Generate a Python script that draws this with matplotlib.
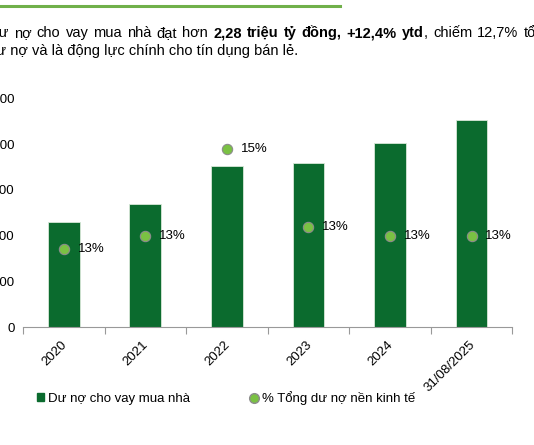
import matplotlib
matplotlib.use("Agg")
import matplotlib.pyplot as plt
from matplotlib.lines import Line2D
from matplotlib.patches import Patch
from matplotlib.transforms import ScaledTranslation

plt.rcParams['font.family'] = ['Liberation Sans', 'DejaVu Sans']

# dữ liệu
categories = ['2020', '2021', '2022', '2023', '2024', '31/08/2025']
loan_values = [1153, 1343, 1761, 1790, 2015, 2263]      # nghìn tỷ đồng
share_pct = [12.7, 13.0, 14.9, 13.2, 13.0, 13.0]         # % tổng dư nợ
y_ticks = [0, 500, 1000, 1500, 2000, 2500]

bar_color = '#0b6b2e'
dot_color = '#7ac143'
fs = 9.5
fs_text = 10.5

fig = plt.figure(figsize=(5.34, 4.45), dpi=100)
ax = fig.add_axes([0.0431, 0.2645, 0.9163, 0.5145])
ax2 = ax.twinx()

x = range(len(categories))
ax.bar(x, loan_values, width=0.39, color=bar_color, edgecolor='#d8e8d8', linewidth=0.6, zorder=2)
ax.set_xlim(-0.5, len(categories) - 0.5)
ax.set_ylim(0, 2500)
ax.set_yticks(y_ticks)
ax.set_yticklabels([str(v) for v in y_ticks], fontsize=fs)
ax.tick_params(axis='y', length=0, pad=6)

# vạch chia giữa các nhóm trên trục x
ax.set_xticks([i + 0.5 for i in range(-1, len(categories))], minor=True)
ax.set_xticks(list(x))
ax.set_xticklabels(categories, rotation=45, ha='right', va='top', rotation_mode='anchor', fontsize=fs)
ax.tick_params(axis='x', which='major', length=0, pad=8)
ax.tick_params(axis='x', which='minor', length=5, color='#999999', width=0.8)
shift = ScaledTranslation(-3 / 100, 0, fig.dpi_scale_trans)
for lab in ax.get_xticklabels():
    lab.set_transform(lab.get_transform() + shift)
for s in ['top', 'right', 'left']:
    ax.spines[s].set_visible(False)
ax.spines['bottom'].set_color('#999999')

ax2.scatter(x, share_pct, s=55, color=dot_color, edgecolor='#8c8c8c', linewidth=0.8, zorder=3)
ax2.set_ylim(11, 16)
ax2.axis('off')
for i, p in enumerate(share_pct):
    ax2.annotate(f'{p:.0f}%', (i, p), xytext=(10, 0), textcoords='offset points',
                 va='center', ha='left', fontsize=fs)

# chú thích
handles = [Patch(facecolor=bar_color, edgecolor=bar_color),
           Line2D([], [], marker='o', linestyle='none', markersize=7,
                  markerfacecolor=dot_color, markeredgecolor='#8c8c8c')]
fig.legend(handles, ['Dư nợ cho vay mua nhà', '% Tổng dư nợ nền kinh tế'],
           loc='center left', bbox_to_anchor=(0.047, 0.106), ncol=2, frameon=False,
           fontsize=fs, handlelength=0.5, handleheight=0.5, handletextpad=0.35,
           columnspacing=4.6)

# đường kẻ xanh và đoạn văn phía trên
fig.add_artist(Line2D([0, 0.637], [1 - 5.5 / 445] * 2, color='#70b04a', linewidth=2.2))

renderer = fig.canvas.get_renderer()


def width_px(s, weight='normal'):
    t = fig.text(0, 0, s, fontsize=fs_text, fontweight=weight)
    w = t.get_window_extent(renderer).width
    t.remove()
    return w


space = width_px('n n') - width_px('nn')
x0 = -(width_px('Dư') - width_px('ư')) - 1

# dòng 1 căn đều hai bên: (từ, kiểu chữ, có dấu cách phía sau)
words = [(w, 'normal', True) for w in 'Dư nợ cho vay mua nhà đạt hơn'.split()]
words += [(w, 'bold', True) for w in '2,28 triệu tỷ đồng, +12,4%'.split()]
words += [('ytd', 'bold', False), (',', 'normal', True)]
words += [(w, 'normal', True) for w in 'chiếm 12,7% tổng'.split()]

# giãn khoảng cách sao cho "chiếm" bắt đầu ở x ≈ 433 px như bản gốc
idx_chiem = [w for w, _, _ in words].index('chiếm')
natural = sum(width_px(w, wg) + (space if sp else 0) for w, wg, sp in words[:idx_chiem])
n_sp = sum(1 for _, _, sp in words[:idx_chiem] if sp)
extra = (433 - x0 - natural) / n_sp

xp = x0
y1 = 1 - 33 / 445
for w, wg, sp in words:
    fig.text(xp / 534, y1, w, fontsize=fs_text, fontweight=wg, va='center', ha='left')
    xp += width_px(w, wg) + (space + extra if sp else 0)
fig.text(x0 / 534, 1 - 51.5 / 445, 'dư nợ và là động lực chính cho tín dụng bán lẻ.',
         fontsize=fs_text, va='center', ha='left')

fig.savefig('out.png', dpi=100)
